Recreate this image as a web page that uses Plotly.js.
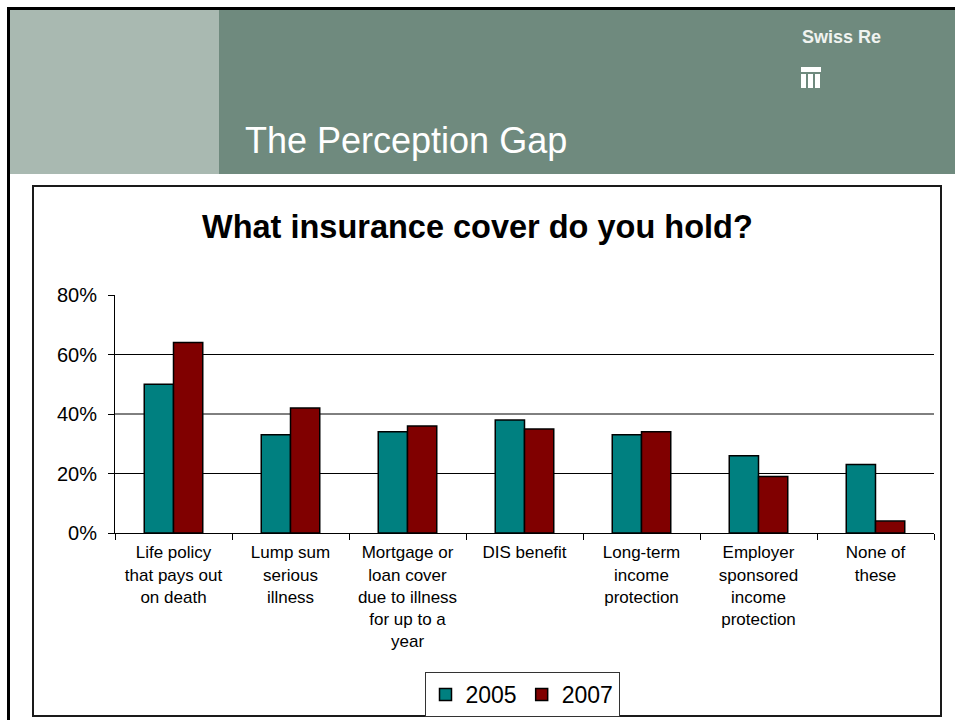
<!DOCTYPE html>
<html>
<head>
<meta charset="utf-8">
<script src="https://cdn.plot.ly/plotly-3.0.1.min.js"></script>
<style>
  html, body { margin: 0; padding: 0; background: #ffffff; overflow: hidden; }
  #chart { width: 955px; height: 720px; }
</style>
</head>
<body>
<div id="chart"></div>
<script>
// ---- data ----
var categories = [
  "Life policy<br>that pays out<br>on death",
  "Lump sum<br>serious<br>illness",
  "Mortgage or<br>loan cover<br>due to illness<br>for up to a<br>year",
  "DIS benefit",
  "Long-term<br>income<br>protection",
  "Employer<br>sponsored<br>income<br>protection",
  "None of<br>these"
];
var series2005 = [50, 33, 34, 38, 33, 26, 23];
var series2007 = [64, 42, 36, 35, 34, 19, 4];
var seriesNames = ["2005", "2007"];
var yTicks = [0, 20, 40, 60, 80];
var yTickLabels = ["0%", "20%", "40%", "60%", "80%"];
var gridValues = [20, 40, 60];

// ---- layout helpers (pixel -> paper) ----
var W = 955, H = 720;
var M = { l: 115, r: 21, t: 295, b: 187, autoexpand: false };
var PW = W - M.l - M.r, PH = H - M.t - M.b;
function X(px) { return (px - M.l) / PW; }
function Y(py) { return (H - M.b - py) / PH; }

var FONT = "Arial, 'Liberation Sans', Helvetica, sans-serif";

var traces = [
  {
    type: "bar", name: seriesNames[0], x: categories, y: series2005,
    marker: { color: "#008080", line: { color: "#000000", width: 1.5 } },
    hoverinfo: "skip"
  },
  {
    type: "bar", name: seriesNames[1], x: categories, y: series2007,
    marker: { color: "#800000", line: { color: "#000000", width: 1.5 } },
    hoverinfo: "skip"
  }
];

var shapes = [];
// header backgrounds
shapes.push({ type: "rect", xref: "paper", yref: "paper", x0: X(10), x1: X(960), y0: Y(174), y1: Y(10),
  fillcolor: "#6f8a7e", line: { width: 0 }, layer: "below" });
shapes.push({ type: "rect", xref: "paper", yref: "paper", x0: X(10), x1: X(219), y0: Y(174), y1: Y(10),
  fillcolor: "#a9b9b1", line: { width: 0 }, layer: "below" });
// outer frame lines
shapes.push({ type: "rect", xref: "paper", yref: "paper", x0: X(7), x1: X(960), y0: Y(10), y1: Y(7),
  fillcolor: "#000000", line: { width: 0 }, layer: "below" });
shapes.push({ type: "rect", xref: "paper", yref: "paper", x0: X(7), x1: X(10), y0: Y(725), y1: Y(7),
  fillcolor: "#000000", line: { width: 0 }, layer: "below" });
// chart box
shapes.push({ type: "rect", xref: "paper", yref: "paper", x0: X(33), x1: X(941), y0: Y(716), y1: Y(186),
  fillcolor: "rgba(0,0,0,0)", line: { color: "#1a1a1a", width: 2 }, layer: "below" });
// logo mark
shapes.push({ type: "rect", xref: "paper", yref: "paper", x0: X(801), x1: X(821), y0: Y(72), y1: Y(67),
  fillcolor: "#ffffff", line: { width: 0 } });
[801, 808, 815].forEach(function (bx) {
  shapes.push({ type: "rect", xref: "paper", yref: "paper", x0: X(bx), x1: X(bx + 5), y0: Y(88), y1: Y(74),
    fillcolor: "#ffffff", line: { width: 0 } });
});
// gridlines
gridValues.forEach(function (v) {
  shapes.push({ type: "line", xref: "paper", yref: "y", x0: 0, x1: 1, y0: v, y1: v,
    line: { color: "#000000", width: 1 }, layer: "below" });
});

var annotations = [
  { text: "The Perception Gap", xref: "paper", yref: "paper", x: X(243), y: Y(140),
    xanchor: "left", yanchor: "middle", showarrow: false,
    font: { family: FONT, size: 36, color: "#ffffff" } },
  { text: "<b>Swiss Re</b>", xref: "paper", yref: "paper", x: X(800), y: Y(37),
    xanchor: "left", yanchor: "middle", showarrow: false,
    font: { family: FONT, size: 18, color: "#f0f3f0" } },
  { text: "<b>What insurance cover do you hold?</b>", xref: "paper", yref: "paper", x: X(477), y: Y(227),
    xanchor: "center", yanchor: "middle", showarrow: false,
    font: { family: FONT, size: 32.5, color: "#000000" } }
];

var layout = {
  width: W, height: H,
  margin: M,
  paper_bgcolor: "#ffffff",
  plot_bgcolor: "rgba(0,0,0,0)",
  font: { family: FONT, color: "#000000" },
  barmode: "group",
  bargap: 0.5,
  bargroupgap: 0,
  showlegend: true,
  legend: {
    orientation: "h", x: X(522), xanchor: "center", y: Y(672), yanchor: "top",
    bordercolor: "#333333", borderwidth: 1, bgcolor: "#ffffff",
    font: { family: FONT, size: 23, color: "#000000" },
    itemclick: false, itemdoubleclick: false, tracegroupgap: 0
  },
  xaxis: {
    type: "category",
    showline: true, linecolor: "#000000", linewidth: 1,
    ticks: "outside", ticklen: 6, tickcolor: "#000000", tickson: "boundaries",
    showgrid: false, zeroline: false,
    tickfont: { family: FONT, size: 17, color: "#000000" },
    ticklabelstandoff: 4,
    fixedrange: true
  },
  yaxis: {
    range: [0, 80],
    tickmode: "array", tickvals: yTicks, ticktext: yTickLabels,
    showline: true, linecolor: "#000000", linewidth: 1,
    ticks: "outside", ticklen: 6, tickcolor: "#000000",
    showgrid: false, zeroline: false,
    tickfont: { family: FONT, size: 20, color: "#000000" },
    ticklabelstandoff: 7,
    fixedrange: true
  },
  shapes: shapes,
  annotations: annotations
};

Plotly.newPlot("chart", traces, layout, { staticPlot: true, displayModeBar: false });
</script>
</body>
</html>
